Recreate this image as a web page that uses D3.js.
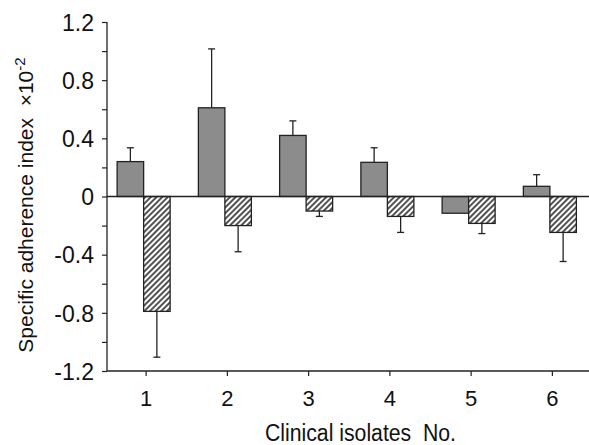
<!DOCTYPE html>
<meta charset="utf-8">
<script src="https://d3js.org/d3.v7.min.js"></script>
<style>
  body { margin: 0; background: #fff; }
  text { font-family: "Liberation Sans", Arial, Helvetica, sans-serif; fill: #111; white-space: pre; }
</style>
<div id="chart"></div>
<script>

// clinical isolates
const isolates = ["1", "2", "3", "4", "5", "6"];
// grey bars and their error
const solidValues = [0.24, 0.61, 0.42, 0.235, -0.115, 0.07];
const solidErrors = [0.095, 0.405, 0.10, 0.10, 0, 0.08];
// hatched bars and their error
const hatchValues = [-0.79, -0.20, -0.10, -0.137, -0.185, -0.247];
const hatchErrors = [0.315, 0.18, 0.037, 0.11, 0.07, 0.20];
// y tick labels
const yLabels = [1.2, 0.8, 0.4, 0, -0.4, -0.8, -1.2];
const yMinor = [1.0, 0.6, 0.2, -0.2, -0.6, -1.0];

const W = 589, H = 445;

const svg = d3.select("#chart").append("svg")
  .attr("width", W).attr("height", H);

// diagonal hatch for the second series
const defs = svg.append("defs");
const pat = defs.append("pattern")
  .attr("id", "hatch")
  .attr("patternUnits", "userSpaceOnUse")
  .attr("width", 4).attr("height", 4)
  .attr("patternTransform", "rotate(45)");
pat.append("rect").attr("width", 4).attr("height", 4).attr("fill", "#fff");
pat.append("line")
  .attr("x1", 2).attr("y1", 0).attr("x2", 2).attr("y2", 4)
  .attr("stroke", "#333").attr("stroke-width", 1.7);

const x = d3.scaleBand().domain(isolates).range([105.5, 593]);
const sub = d3.scaleBand().domain(["solid", "hatch"]).range([-29, 24]);
const y = d3.scaleLinear().domain([-1.2, 1.2]).range([371, 22]);

const rows = isolates.map((k, i) => [
  {k, s: "solid", v: solidValues[i], e: solidErrors[i]},
  {k, s: "hatch", v: hatchValues[i], e: hatchErrors[i]}
]).flat();

const cx = d => x(d.k) + x.bandwidth() / 2 + sub(d.s);

// bars
svg.selectAll("rect.bar").data(rows).join("rect")
  .attr("class", "bar")
  .attr("x", d => cx(d))
  .attr("width", sub.bandwidth())
  .attr("y", d => y(Math.max(0, d.v)))
  .attr("height", d => Math.abs(y(d.v) - y(0)))
  .attr("fill", d => d.s === "solid" ? "#8c8c8c" : "url(#hatch)")
  .attr("stroke", "#222").attr("stroke-width", 1.3);

// error bars
const err = rows.filter(d => d.e > 0);
const ex = d => cx(d) + sub.bandwidth() / 2;
const ey = d => y(d.v + Math.sign(d.v) * d.e);
svg.selectAll("line.err").data(err).join("line")
  .attr("class", "err")
  .attr("x1", ex).attr("x2", ex)
  .attr("y1", d => y(d.v)).attr("y2", ey)
  .attr("stroke", "#222").attr("stroke-width", 1.3);
svg.selectAll("line.cap").data(err).join("line")
  .attr("class", "cap")
  .attr("x1", d => ex(d) - 3.5).attr("x2", d => ex(d) + 3.5)
  .attr("y1", ey).attr("y2", ey)
  .attr("stroke", "#222").attr("stroke-width", 1.3);

// zero line
svg.append("line")
  .attr("x1", 107).attr("x2", 589)
  .attr("y1", y(0)).attr("y2", y(0))
  .attr("stroke", "#222").attr("stroke-width", 1.3);

// y axis (plain hyphen for negatives, like the original)
const yAxis = svg.append("g")
  .attr("transform", "translate(107,0)")
  .call(d3.axisLeft(y).tickValues(yLabels.concat(yMinor)).tickSize(5).tickPadding(8)
    .tickFormat(d => yLabels.includes(d) ? String(d) : ""));
yAxis.select(".domain").attr("d", `M0,${y(1.2)}V${y(-1.2)}`).attr("stroke", "#222").attr("stroke-width", 1.3);
yAxis.selectAll(".tick line").attr("stroke", "#222").attr("stroke-width", 1.2);
yAxis.selectAll(".tick text").style("font-size", "23px").attr("dy", "0.36em");

// x axis
const xAxis = svg.append("g")
  .attr("transform", "translate(0,371)")
  .call(d3.axisBottom(x).tickSize(5).tickPadding(14));
xAxis.select(".domain").attr("d", "M107,0H589").attr("stroke", "#222").attr("stroke-width", 1.3);
xAxis.selectAll(".tick line").attr("stroke", "#222").attr("stroke-width", 1.2);
xAxis.selectAll(".tick text").style("font-size", "22px");

// axis titles
svg.append("text")
  .attr("x", 265).attr("y", 441)
  .attr("textLength", 191).attr("lengthAdjust", "spacingAndGlyphs")
  .style("font-size", "23px")
  .text("Clinical isolates  No.");

const yt = svg.append("text")
  .attr("transform", "translate(33,205) rotate(-90)")
  .attr("text-anchor", "middle")
  .style("font-size", "21px");
yt.append("tspan").text("Specific adherence index  \u00d710");
yt.append("tspan").attr("dy", -8).style("font-size", "15px").text("-2");

</script>
